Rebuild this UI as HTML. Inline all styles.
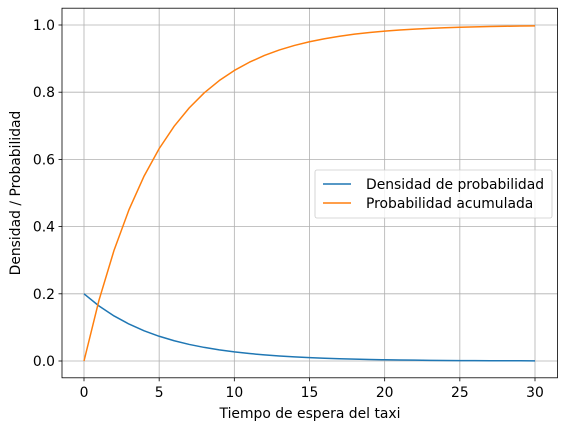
<!DOCTYPE html>
<html><head><meta charset="utf-8"><style>
body{margin:0;background:#fff;font-family:"Liberation Sans","DejaVu Sans",sans-serif;}
svg text{font-family:"DejaVu Sans","Liberation Sans",sans-serif;font-size:13.9px;fill:#000;}
</style></head><body>
<svg id="chart" width="567" height="432" viewBox="0 0 567 432">
<g id="grid"></g>
<g id="series"></g>
<rect x="62" y="8.2" width="495.5" height="369.6" fill="none" stroke="#000" stroke-width="0.8"/>
<g id="ticks"></g>
<text x="310" y="418" text-anchor="middle">Tiempo de espera del taxi</text>
<text transform="translate(20,193) rotate(-90)" text-anchor="middle">Densidad / Probabilidad</text>
<g>
<rect x="315" y="170" width="237" height="48" rx="2" fill="#fff" fill-opacity="0.8" stroke="#ccc" stroke-width="0.8"/>
<line x1="323" y1="184" x2="351" y2="184" stroke="#1f77b4" stroke-width="1.5"/>
<text x="366" y="189">Densidad de probabilidad</text>
<line x1="323" y1="203" x2="351" y2="203" stroke="#ff7f0e" stroke-width="1.5"/>
<text x="366" y="208">Probabilidad acumulada</text>
</g>
</svg>
<script>
const xValues=[0,1,2,3,4,5,6,7,8,9,10,11,12,13,14,15,16,17,18,19,20,21,22,23,24,25,26,27,28,29,30];
const densityValues=[0.2,0.1637,0.1341,0.1098,0.0899,0.0736,0.0602,0.0493,0.0404,0.0331,0.0271,0.0222,0.0181,0.0149,0.0122,0.0100,0.0082,0.0067,0.0055,0.0045,0.0037,0.0030,0.0025,0.0020,0.0016,0.0013,0.0011,0.0009,0.0007,0.0006,0.0005];
const cdfValues=[0,0.1813,0.3297,0.4512,0.5507,0.6321,0.6988,0.7534,0.7981,0.8347,0.8647,0.8892,0.9093,0.9257,0.9392,0.9502,0.9592,0.9666,0.9727,0.9776,0.9817,0.9850,0.9877,0.9899,0.9918,0.9933,0.9945,0.9955,0.9963,0.9970,0.9975];
const xTicks=[0,5,10,15,20,25,30];
const yTicks=[0.0,0.2,0.4,0.6,0.8,1.0];
const NS="http://www.w3.org/2000/svg";
function sx(v){return 84+v*(451/30);}
function sy(v){return 361-v*336;}
function mk(tag,attrs,parent){const e=document.createElementNS(NS,tag);for(const k in attrs)e.setAttribute(k,attrs[k]);parent.appendChild(e);return e;}
const grid=document.getElementById('grid'),ticks=document.getElementById('ticks'),series=document.getElementById('series');
xTicks.forEach(t=>{
 const g=mk('line',{x1:sx(t),x2:sx(t),y1:8.2,y2:377.8,stroke:'#b0b0b0','stroke-width':0.8},grid);
 
 
 const tk=mk('line',{x1:sx(t),x2:sx(t),y1:377.8,y2:381.3,stroke:'#000','stroke-width':0.8},ticks);
 
 
 const tx=mk('text',{x:sx(t),y:397,'text-anchor':'middle'},ticks);tx.textContent=t;
 
 
});
yTicks.forEach(t=>{
 const g=mk('line',{x1:62,x2:557.5,y1:sy(t),y2:sy(t),stroke:'#b0b0b0','stroke-width':0.8},grid);
 
 
 const tk=mk('line',{x1:58.5,x2:62,y1:sy(t),y2:sy(t),stroke:'#000','stroke-width':0.8},ticks);
 
 
 const tx=mk('text',{x:55,y:sy(t)+5,'text-anchor':'end'},ticks);tx.textContent=t.toFixed(1);
 
 
});
function line(vals,color,name){
 const d=vals.map((v,i)=>(i?'L':'M')+sx(xValues[i])+' '+sy(v)).join(' ');
 const p=mk('path',{d:d,fill:'none',stroke:color,'stroke-width':1.5,'stroke-linejoin':'round'},series);
 
 
}
line(densityValues,'#1f77b4','density-line');
line(cdfValues,'#ff7f0e','cdf-line');
</script>
</body></html>
